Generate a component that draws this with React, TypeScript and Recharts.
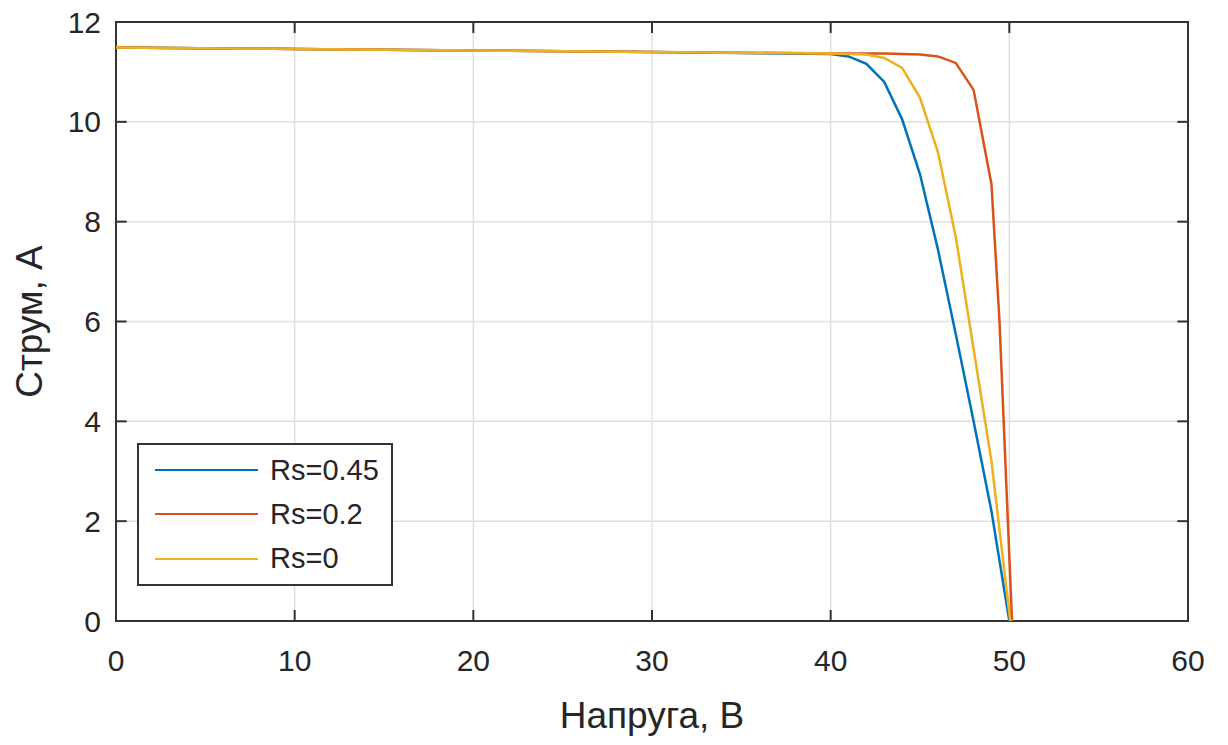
import { LineChart, Line, XAxis, YAxis, CartesianGrid, Legend, Label, ReferenceArea, ReferenceLine } from 'recharts';

const FONT = '"Liberation Sans", Arial, Helvetica, sans-serif';

// напруга (В) і струм (А) для кожного Rs
const voltsRs045 = [0, 10, 20, 30, 40, 41, 42, 43, 44, 45, 46, 47, 48, 49, 50];
const ampsRs045 = [11.49, 11.46, 11.43, 11.4, 11.36, 11.31, 11.16, 10.8, 10.05, 8.95, 7.45, 5.75, 4.0, 2.2, 0];

const voltsRs02 = [0, 10, 20, 30, 40, 41, 42, 43, 44, 45, 46, 47, 48, 49, 49.45, 50.15];
const ampsRs02 = [11.49, 11.46, 11.43, 11.4, 11.37, 11.37, 11.37, 11.37, 11.36, 11.35, 11.31, 11.18, 10.64, 8.75, 6.0, 0];

const voltsRs0 = [0, 10, 20, 30, 40, 41, 42, 43, 44, 45, 46, 47, 48, 49, 50.05];
const ampsRs0 = [11.49, 11.46, 11.43, 11.4, 11.37, 11.36, 11.35, 11.28, 11.08, 10.48, 9.4, 7.7, 5.45, 3.2, 0];

const seriesNames = ['Rs=0.45', 'Rs=0.2', 'Rs=0'];
const xTicks = [0, 10, 20, 30, 40, 50, 60];
const yTicks = [0, 2, 4, 6, 8, 10, 12];

const toRows = (v: number[], i: number[]) => v.map((x, k) => ({ v: x, i: i[k] }));

const AXIS = '#333333';
const TEXT = '#262626';

const renderLegend = (props: any) => {
  const items = [...(props.payload || [])].sort(
    (a: any, b: any) => seriesNames.indexOf(a.value) - seriesNames.indexOf(b.value)
  );
  return (
    <div
      style={{
        boxSizing: 'border-box',
        width: 256,
        height: 143,
        border: `2px solid ${AXIS}`,
        background: '#fff',
        padding: '3px 10px 2px 16px',
        fontFamily: FONT,
        fontSize: 29,
        color: TEXT,
      }}
    >
      {items.map((entry: any) => (
        <div key={entry.value} style={{ display: 'flex', alignItems: 'center', height: 44.3 }}>
          <div style={{ width: 103, height: 2, background: entry.color, marginRight: 12 }} />
          <span style={{ lineHeight: 1 }}>{entry.value}</span>
        </div>
      ))}
    </div>
  );
};

export default function App() {
  return (
    <div style={{ position: 'absolute', left: 0, top: 0, background: '#fff' }}>
      <LineChart width={1228} height={745} margin={{ top: 22, right: 40, left: 0, bottom: 0 }}>
        <CartesianGrid stroke="#e0e0e0" strokeWidth={1.5} />
        <XAxis
          type="number"
          dataKey="v"
          domain={[0, 60]}
          ticks={xTicks}
          interval={0}
          height={124}
          axisLine={false}
          tickLine={false}
          tickSize={0}
          tickMargin={29}
          tick={{ fill: TEXT, fontSize: 30, fontFamily: FONT }}
        >
          <Label
            content={(p: any) => {
              const vb = p.viewBox;
              return (
                <text x={vb.x + vb.width / 2} y={vb.y + 107} textAnchor="middle" fontSize={37} fontFamily={FONT} fill={TEXT}>
                  Напруга, В
                </text>
              );
            }}
          />
        </XAxis>
        <YAxis
          type="number"
          domain={[0, 12]}
          ticks={yTicks}
          interval={0}
          width={116}
          axisLine={false}
          tickLine={false}
          tickSize={0}
          tickMargin={15}
          tick={{ fill: TEXT, fontSize: 30, fontFamily: FONT }}
        >
          <Label
            content={(p: any) => {
              const vb = p.viewBox;
              const cx = vb.x + 42;
              const cy = vb.y + vb.height / 2;
              return (
                <text x={cx} y={cy} transform={`rotate(-90, ${cx}, ${cy})`} textAnchor="middle" fontSize={37} fontFamily={FONT} fill={TEXT}>
                  Струм, А
                </text>
              );
            }}
          />
        </YAxis>

        {xTicks.map((t) => (
          <ReferenceLine key={`xb${t}`} segment={[{ x: t, y: 0 }, { x: t, y: 0.22 }]} stroke={AXIS} strokeWidth={2} />
        ))}
        {xTicks.map((t) => (
          <ReferenceLine key={`xt${t}`} segment={[{ x: t, y: 12 }, { x: t, y: 11.78 }]} stroke={AXIS} strokeWidth={2} />
        ))}
        {yTicks.map((t) => (
          <ReferenceLine key={`yl${t}`} segment={[{ x: 0, y: t }, { x: 0.6, y: t }]} stroke={AXIS} strokeWidth={2} />
        ))}
        {yTicks.map((t) => (
          <ReferenceLine key={`yr${t}`} segment={[{ x: 60, y: t }, { x: 59.4, y: t }]} stroke={AXIS} strokeWidth={2} />
        ))}
        <ReferenceArea x1={0} x2={60} y1={0} y2={12} fill="none" stroke={AXIS} strokeWidth={2} />

        <Line data={toRows(voltsRs045, ampsRs045)} dataKey="i" name={seriesNames[0]} type="linear" stroke="#0072BD" strokeWidth={2.5} dot={false} isAnimationActive={false} />
        <Line data={toRows(voltsRs02, ampsRs02)} dataKey="i" name={seriesNames[1]} type="linear" stroke="#D95319" strokeWidth={2.5} dot={false} isAnimationActive={false} />
        <Line data={toRows(voltsRs0, ampsRs0)} dataKey="i" name={seriesNames[2]} type="linear" stroke="#EDB120" strokeWidth={2.5} dot={false} isAnimationActive={false} />

        <Legend layout="vertical" align="center" verticalAlign="middle" content={renderLegend} wrapperStyle={{ left: 137, top: 443, width: 256 }} />
      </LineChart>
    </div>
  );
}
